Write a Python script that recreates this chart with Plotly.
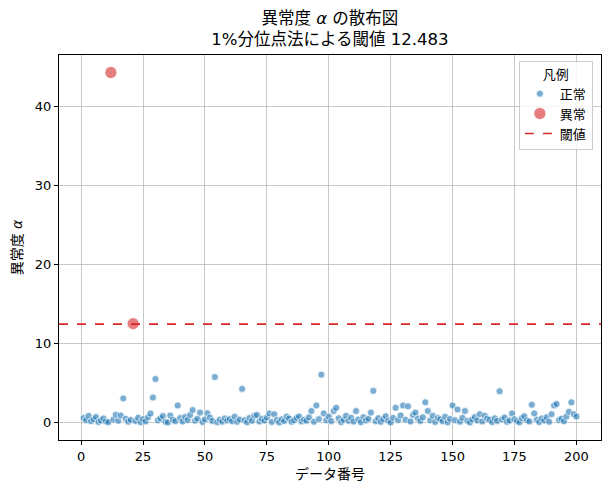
import numpy as np
import plotly.graph_objects as go

# --- anomaly score per sample ---
scores = [
    0.62, 0.35, 0.88, 0.21, 0.45, 0.73, 0.12, 0.30, 0.56, 0.18,
    0.09, 44.3, 0.41, 1.02, 0.27, 0.93, 3.10, 0.52, 0.15, 0.38,
    12.55, 0.24, 0.66, 0.08, 0.47, 0.19, 0.71, 1.18, 3.20, 5.55,
    0.33, 0.58, 0.86, 0.14, 0.05, 0.92, 0.40, 0.22, 2.20, 0.61,
    0.17, 0.74, 0.36, 1.00, 1.62, 0.28, 0.53, 1.30, 0.11, 0.44,
    1.22, 0.67, 0.25, 5.80, 0.09, 0.39, 0.16, 0.57, 0.31, 0.48,
    0.20, 0.79, 0.13, 0.42, 4.30, 0.35, 0.07, 0.63, 0.26, 0.90,
    1.00, 0.18, 0.51, 0.29, 0.68, 1.20, 0.12, 1.10, 0.37, 0.06,
    0.45, 0.23, 0.80, 0.55, 0.14, 0.32, 0.62, 0.82, 0.19, 0.41,
    0.27, 0.70, 1.50, 0.15, 2.20, 0.48, 6.10, 1.20, 0.34, 0.80,
    0.22, 1.50, 1.90, 0.58, 0.10, 0.39, 0.90, 0.26, 0.66, 0.17,
    1.50, 0.43, 0.08, 0.72, 0.30, 0.52, 1.30, 4.05, 0.21, 0.60,
    0.13, 0.47, 0.84, 0.28, 0.05, 0.64, 1.90, 0.36, 0.95, 2.20,
    0.40, 2.10, 0.18, 1.00, 1.30, 0.55, 0.24, 0.70, 2.60, 1.50,
    0.32, 0.90, 0.12, 0.61, 0.45, 0.20, 0.78, 0.09, 0.50, 2.20,
    0.35, 1.70, 0.16, 0.63, 1.50, 0.27, 0.06, 0.44, 0.74, 0.31,
    1.10, 0.19, 0.90, 0.53, 0.38, 0.11, 0.58, 0.25, 4.00, 0.42,
    0.68, 0.14, 0.30, 1.20, 0.47, 0.22, 0.07, 0.60, 0.84, 0.33,
    0.18, 2.30, 1.20, 0.40, 0.10, 0.56, 0.29, 0.72, 0.15, 1.10,
    2.20, 2.40, 0.36, 0.52, 0.20, 0.81, 1.40, 2.60, 1.10, 0.80,
]
index = list(range(1, len(scores) + 1))
threshold = 12.483

x_ticks = [0, 25, 50, 75, 100, 125, 150, 175, 200]
y_ticks = [0, 10, 20, 30, 40]

idx = np.array(index)
a = np.array(scores)
anom = a > threshold

# matplotlib-like 5% margins
xpad = 0.05 * (idx.max() - idx.min())
ypad = 0.05 * (a.max() - a.min())
xr = [idx.min() - xpad, idx.max() + xpad]
yr = [a.min() - ypad, a.max() + ypad]

font = "DejaVu Sans, Noto Sans CJK JP, sans-serif"

fig = go.Figure()

fig.add_trace(go.Scatter(
    x=idx[~anom], y=a[~anom], mode="markers", name="正常",
    marker=dict(size=7, color="rgba(31,119,180,0.6)",
                line=dict(color="white", width=0.7)),
))
fig.add_trace(go.Scatter(
    x=idx[anom], y=a[anom], mode="markers", name="異常",
    marker=dict(size=12, color="rgba(214,39,40,0.6)",
                line=dict(color="white", width=0.7)),
))
fig.add_trace(go.Scatter(
    x=xr, y=[threshold, threshold], mode="lines", name="閾値",
    line=dict(color="#d62728", width=1.6, dash="dash"),
))

axis_common = dict(
    showline=True, linecolor="black", linewidth=1, mirror=True,
    ticks="outside", ticklen=4, tickcolor="black",
    showgrid=True, gridcolor="rgba(176,176,176,0.7)", gridwidth=1,
    zeroline=False, tickfont=dict(size=13, color="black"),
    automargin=False,
)

fig.update_xaxes(range=xr, tickvals=x_ticks,
                 title=dict(text="データ番号", font=dict(size=14), standoff=6),
                 **axis_common)
fig.update_yaxes(range=yr, tickvals=y_ticks,
                 title=dict(text="異常度 <i>α</i>", font=dict(size=14), standoff=8),
                 **axis_common)

fig.update_layout(
    width=611, height=493,
    margin=dict(l=59, r=10, t=55, b=53, autoexpand=False),
    paper_bgcolor="white", plot_bgcolor="white",
    font=dict(family=font, color="black"),
    title=dict(
        text="異常度 <i>α</i> の散布図<br>1%分位点法による閾値 12.483",
        x=0.54, xref="container", xanchor="center",
        y=0.952, yref="container", yanchor="top", font=dict(size=16.5),
        automargin=False,
    ),
    legend=dict(
        title=dict(text="凡例", side="top center", font=dict(size=13)),
        x=0.985, y=0.985, xanchor="right", yanchor="top",
        bgcolor="rgba(255,255,255,0.8)", bordercolor="#cccccc", borderwidth=1,
        font=dict(size=13),
    ),
)

# drop the browser's default body margin so the figure sits at the page corner
fig.write_html("out.html", config={"displayModeBar": False},
               post_script="document.body.style.margin='0';")
